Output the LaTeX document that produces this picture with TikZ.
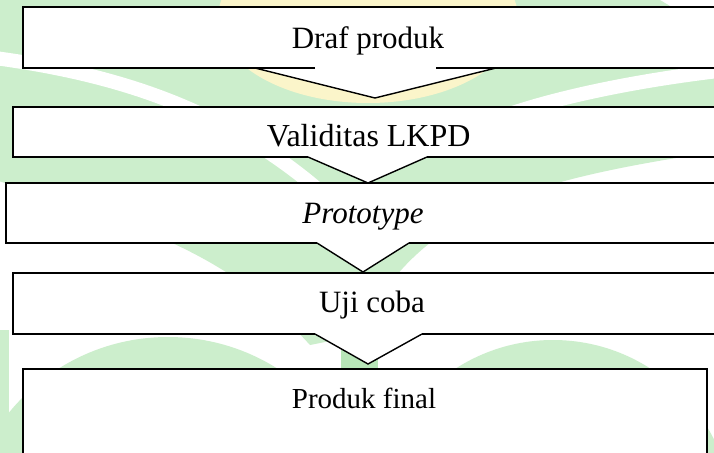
\documentclass[tikz,border=0pt]{standalone}
\usepackage{fontspec}
\setmainfont{Liberation Serif}
\definecolor{wmgreen}{RGB}{204,238,204}
\definecolor{wmgreendeep}{RGB}{184,230,184}
\definecolor{wmyellow}{RGB}{251,245,202}
\begin{document}
\begin{tikzpicture}[x=1pt,y=-1pt,
  panel/.style={fill=white, draw=none, inner sep=0pt, outer sep=0pt, anchor=north west},
  edge/.style={line width=1.5pt, line join=miter},
  chev/.style={line width=1.4pt, line join=miter},
  lbl/.style={inner sep=0pt, anchor=base, font=\fontsize{31}{36}\selectfont}]
\clip (0,0) rectangle (714,452);
\fill[white] (0,0) rectangle (714,452);

% faint emblem behind the flow: a funnel of leaves, a pale sun, two domes and a pillar
\fill[wmgreen] (-5,0) -- (660,0) -- (727,40) -- (727,150)
  .. controls (560,175) and (450,200) .. (385,290) -- (360,335) -- (310,345)
  .. controls (250,280) and (200,240) .. (-5,180) -- cycle;
\draw[white, line width=14pt] (-5,58) .. controls (120,75) and (230,110) .. (330,200);
\draw[white, line width=14pt] (727,70) .. controls (620,82) and (520,105) .. (470,130);
\fill[white] (690,150) -- (727,150) -- (727,200) -- (690,200) -- cycle;
\fill[wmyellow] (368,18) ellipse [x radius=150, y radius=85];
\fill[wmgreen] (168,542) circle [radius=205];
\fill[wmgreen] (553,520) circle [radius=180];
\fill[wmgreendeep] (341,320) rectangle (378,452);
\fill[wmgreen] (0,330) rectangle (9,452);

% step panels
\node[panel, minimum width=700pt, minimum height=61pt] (b1) at (23,7) {};
\node[panel, minimum width=710pt, minimum height=50pt] (b2) at (13,107) {};
\node[panel, minimum width=720pt, minimum height=60pt] (b3) at (6,183) {};
\node[panel, minimum width=710pt, minimum height=61pt] (b4) at (13,273) {};
\node[panel, minimum width=684pt, minimum height=100pt] (b5) at (23,369) {};

% chevron corners between the panels
\coordinate (c1l) at (255,68);  \coordinate (a1) at (375,98);  \coordinate (c1r) at (496,68);
\coordinate (g1l) at (315,68);  \coordinate (g1r) at (436,68);
\coordinate (c2l) at (308,157); \coordinate (a2) at (368,183); \coordinate (c2r) at (427,157);
\coordinate (c3l) at (317,243); \coordinate (a3) at (363,272); \coordinate (c3r) at (409,243);
\coordinate (c4l) at (315,334); \coordinate (a4) at (368,364); \coordinate (c4r) at (422,334);

\fill[white] (c1l) -- (a1) -- (c1r) -- cycle;
\fill[white] (c2l) -- (a2) -- (c2r) -- cycle;
\fill[white] (c3l) -- (a3) -- (c3r) -- cycle;
\fill[white] (c4l) -- (a4) -- (c4r) -- cycle;

% panel outlines, open where a chevron leaves
\draw[edge] (g1l) -| (b1.north west) -| (b1.south east) -- (g1r);
\draw[edge] (c2l) -| (b2.north west) -| (b2.south east) -- (c2r);
\draw[edge] (c3l) -| (b3.north west) -| (b3.south east) -- (c3r);
\draw[edge] (c4l) -| (b4.north west) -| (b4.south east) -- (c4r);
\draw[edge] (b5.south west) -- (b5.north west) -- (b5.north east) -- (b5.south east);

% chevrons
\draw[chev] (c1l) -- (a1) -- (c1r);
\draw[chev] (c2l) -- (a2) -- (c2r);
\draw[chev] (c3l) -- (a3) -- (c3r);
\draw[chev] (c4l) -- (a4) -- (c4r);

% labels
\node[lbl] (t1) at (368,48.3) {Draf produk};
\node[lbl, font=\fontsize{32}{36}\selectfont] (t2) at (368.7,146.7) {Validitas LKPD};
\node[lbl] (t3) at (363,223) {\itshape Prototype};
\node[lbl] (t4) at (372,312) {Uji coba};
\node[lbl, font=\fontsize{29}{34}\selectfont] (t5) at (364,408) {Produk final};
\end{tikzpicture}
\end{document}
